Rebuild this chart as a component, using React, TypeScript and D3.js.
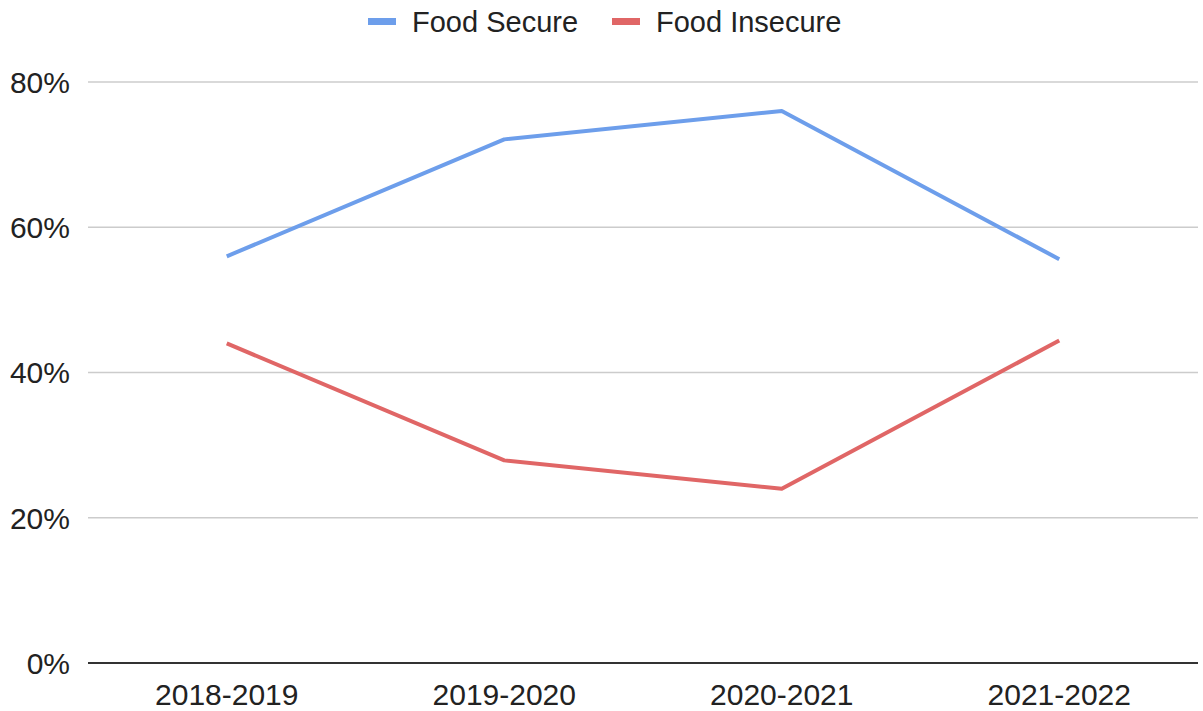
import React from "react";
import * as d3 from "d3";

const categories = ["2018-2019", "2019-2020", "2020-2021", "2021-2022"];
const foodSecure = [56.0, 72.1, 76.0, 55.6];
const foodInsecure = [44.0, 27.9, 24.0, 44.4];
const yTicks = [0, 20, 40, 60, 80];
const seriesNames = ["Food Secure", "Food Insecure"];
const seriesColors = ["#6d9eeb", "#e06666"];

const W = 1203;
const H = 711;
const FONT = "'Liberation Sans', Arial, sans-serif";

export default function App() {
  const left = 88;
  const right = 1198;
  const top = 82;
  const bottom = 663;
  const x = d3.scaleBand<string>().domain(categories).range([left, right]);
  const y = d3.scaleLinear().domain([0, 80]).range([bottom, top]);
  const line = d3
    .line<number>()
    .x((_, i) => (x(categories[i]) as number) + x.bandwidth() / 2)
    .y((d) => y(d));
  const series = [foodSecure, foodInsecure];

  const legendItems = [
    { swatch: 368, text: 412 },
    { swatch: 612, text: 656 },
  ];

  return (
    <svg
      width={W}
      height={H}
      style={{ position: "absolute", left: 0, top: 0, background: "#fff" }}
      fontFamily={FONT}
    >
      {yTicks.map((t) => (
        <g key={t}>
          {t !== 0 && (
            <line x1={left} x2={right} y1={y(t)} y2={y(t)} stroke="#cccccc" strokeWidth={1.5} />
          )}
          <text x={70} y={y(t)} dy="0.36em" textAnchor="end" fontSize={30} fill="#222">
            {t}%
          </text>
        </g>
      ))}
      {series.map((s, i) => (
        <path
          key={i}
          d={line(s) || ""}
          fill="none"
          stroke={seriesColors[i]}
          strokeWidth={4}
          strokeLinejoin="round"
        />
      ))}
      <line x1={left} x2={right} y1={bottom} y2={bottom} stroke="#333" strokeWidth={2} />
      {categories.map((c) => (
        <text
          key={c}
          x={(x(c) as number) + x.bandwidth() / 2}
          y={705}
          textAnchor="middle"
          fontSize={30}
          fill="#222"
        >
          {c}
        </text>
      ))}
      {seriesNames.map((n, i) => (
        <g key={n}>
          <rect x={legendItems[i].swatch} y={18} width={28} height={7} fill={seriesColors[i]} />
          <text x={legendItems[i].text} y={22} dy="0.36em" fontSize={29} fill="#222">
            {n}
          </text>
        </g>
      ))}
    </svg>
  );
}
